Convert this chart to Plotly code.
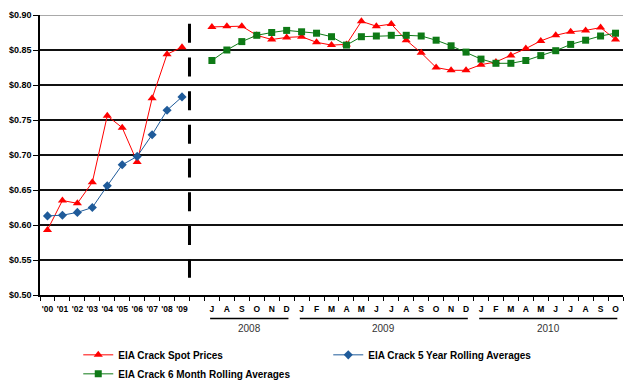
import plotly.graph_objects as go

# ---- data -------------------------------------------------------------
annual_labels = ["'00", "'01", "'02", "'03", "'04", "'05", "'06", "'07", "'08", "'09"]
spot_annual = [0.593, 0.635, 0.631, 0.661, 0.756, 0.739, 0.690, 0.781, 0.844, 0.854]
avg5_annual = [0.613, 0.614, 0.618, 0.625, 0.656, 0.686, 0.698, 0.729, 0.764, 0.783]

month_labels = ["J", "A", "S", "O", "N", "D",
                "J", "F", "M", "A", "M", "J", "J", "A", "S", "O", "N", "D",
                "J", "F", "M", "A", "M", "J", "J", "A", "S", "O"]
spot_monthly = [0.883, 0.884, 0.884, 0.871, 0.865, 0.868,
                0.869, 0.861, 0.857, 0.858, 0.891, 0.884, 0.887, 0.864, 0.846, 0.825, 0.821, 0.821,
                0.829, 0.833, 0.842, 0.852, 0.863, 0.871, 0.876, 0.878, 0.882, 0.865]
avg6_monthly = [0.835, 0.850, 0.862, 0.871, 0.875, 0.878,
                0.876, 0.874, 0.869, 0.857, 0.869, 0.870, 0.871, 0.871, 0.870, 0.864, 0.856, 0.847,
                0.837, 0.831, 0.831, 0.835, 0.842, 0.849, 0.858, 0.864, 0.870, 0.874]

years = ["2008", "2009", "2010"]
months_per_year = [6, 12, 10]

y_ticks = [0.50, 0.55, 0.60, 0.65, 0.70, 0.75, 0.80, 0.85, 0.90]

# ---- positions on the shared category scale ----------------------------
n_ann = len(annual_labels)
x_annual = list(range(n_ann))
gap_x = n_ann                      # empty slot between annual and monthly parts
x_monthly = [n_ann + 1 + i for i in range(len(month_labels))]
n_cat = n_ann + 1 + len(month_labels)
boundaries = [i - 0.5 for i in range(n_cat + 1)]

RED = "#FF0000"
BLUE = "#1F5B9A"
GREEN = "#0E7A16"
FONT = "Liberation Sans"

fig = go.Figure()

fig.add_trace(go.Scatter(
    x=x_annual + [gap_x] + x_monthly,
    y=spot_annual + [None] + spot_monthly,
    mode="lines+markers", name="EIA Crack Spot Prices",
    line=dict(color=RED, width=1),
    marker=dict(symbol="triangle-up", size=8, color=RED),
    connectgaps=False,
))
fig.add_trace(go.Scatter(
    x=x_annual, y=avg5_annual,
    mode="lines+markers", name="EIA Crack 5 Year Rolling Averages",
    line=dict(color=BLUE, width=1),
    marker=dict(symbol="diamond", size=7, color=BLUE),
))
fig.add_trace(go.Scatter(
    x=x_monthly, y=avg6_monthly,
    mode="lines+markers", name="EIA Crack 6 Month Rolling Averages",
    line=dict(color=GREEN, width=1),
    marker=dict(symbol="square", size=7, color=GREEN),
))

# dashed divider between the annual and monthly sections
fig.add_shape(type="line", xref="x", yref="y",
              x0=n_ann - 0.5, x1=n_ann - 0.5, y0=0.8875, y1=0.5245,
              line=dict(color="black", width=3, dash="19px,14.7px"))

# top border line in grey
fig.add_shape(type="line", xref="paper", yref="y", x0=0, x1=1, y0=0.90, y1=0.90,
              line=dict(color="#8c8c8c", width=1.5))

# year group underlines and labels
start = 0
for yr, cnt in zip(years, months_per_year):
    first = x_monthly[start]
    last = x_monthly[start + cnt - 1]
    fig.add_shape(type="line", xref="x", yref="paper",
                  x0=first - 0.12, x1=last + 0.12, y0=-0.084, y1=-0.084,
                  line=dict(color="black", width=1.5))
    fig.add_annotation(x=(first + last) / 2, y=-0.093, xref="x", yref="paper",
                       text=yr, showarrow=False, yanchor="top",
                       font=dict(family=FONT, size=10, color="#333333"))
    start += cnt

fig.update_layout(
    width=626, height=385,
    margin=dict(l=40, r=3, t=15, b=89.5, autoexpand=False),
    paper_bgcolor="white", plot_bgcolor="white",
    font=dict(family=FONT, color="black"),
    showlegend=True,
    legend=dict(orientation="h", xref="container", yref="container",
                x=0.125, y=0.116, xanchor="left", yanchor="top",
                entrywidth=205, entrywidthmode="pixels",
                font=dict(family=FONT, size=10, color="black", weight="bold"),
                tracegroupgap=0, itemwidth=30, bgcolor="rgba(0,0,0,0)"),
    xaxis=dict(
        range=[-0.5, n_cat - 0.5], showgrid=False, zeroline=False,
        tickmode="array", tickvals=x_annual + x_monthly,
        ticktext=annual_labels + month_labels,
        ticks="", ticklabelstandoff=5,
        tickfont=dict(family=FONT, size=8.5, color="black", weight="bold"),
        showline=True, linecolor="black", linewidth=1.5,
        minor=dict(tickmode="array", tickvals=boundaries, ticks="outside",
                   ticklen=4, tickwidth=1.2, tickcolor="black"),
    ),
    xaxis2=dict(
        overlaying="x", anchor="y", side="bottom",
        range=[-0.5, n_cat - 0.5], showgrid=False, zeroline=False,
        tickmode="array", tickvals=boundaries, ticks="inside",
        ticklen=4, tickwidth=1.2, tickcolor="black",
        showticklabels=False, showline=False,
    ),
    yaxis=dict(
        range=[0.50, 0.90], tickmode="array", tickvals=y_ticks,
        tickformat="$.2f", showgrid=True, gridcolor="#111111", gridwidth=1.6,
        zeroline=False, showline=True, linecolor="black", linewidth=1.5,
        ticks="outside", ticklen=5, tickwidth=1.2, tickcolor="black",
        tickfont=dict(family=FONT, size=9, color="black", weight="bold"),
    ),
)

fig.write_html("out.html")
